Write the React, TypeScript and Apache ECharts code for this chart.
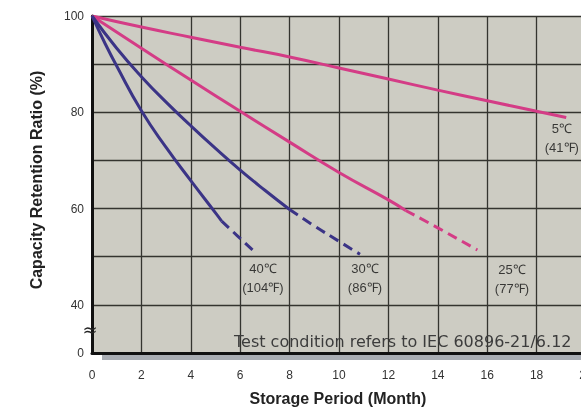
import React, { useEffect, useRef } from "react";
import * as echarts from "echarts";

// Month (x) and capacity retention (%)
const c5X = [0, 2, 4, 6, 8, 10, 12, 14, 16, 18, 19.2];
const c5Y = [100, 97.7, 95.6, 93.5, 91.5, 89.2, 86.9, 84.6, 82.4, 80.2, 78.9];

const c25SolidX = [0, 2, 4, 6, 8, 10, 12, 12.7];
const c25SolidY = [100, 93.3, 86.7, 80.2, 73.8, 67.5, 61.8, 59.6];
const c25DashX = [12.7, 14, 15.6];
const c25DashY = [59.6, 56.0, 51.4];

const c30SolidX = [0, 1, 2, 3, 4, 5, 6, 7, 8];
const c30SolidY = [100, 93.3, 87.4, 82.1, 77.2, 72.5, 68.0, 63.8, 59.8];
const c30DashX = [8, 9, 10, 10.85];
const c30DashY = [59.8, 56.4, 53.2, 50.5];

const c40SolidX = [0, 0.5, 1, 2, 3, 4, 5, 5.25];
const c40SolidY = [100, 94.6, 89.6, 80.3, 72.7, 65.8, 59.1, 57.4];
const c40DashX = [5.25, 6.5];
const c40DashY = [57.4, 51.4];

const labelNames = ["40℃\n(104℉)", "30℃\n(86℉)", "25℃\n(77℉)", "5℃\n(41℉)"];
const labelX = [6.92, 11.05, 17.0, 19.02];
const labelY = [45.5, 45.5, 45.4, 74.6];

const yTickLabels: Record<number, string> = { 100: "100", 80: "80", 60: "60", 40: "40", 30: "0" };

const PINK = "#d43c86";
const NAVY = "#3b3486";

const zip = (xs: number[], ys: number[]) => xs.map((x, i) => [x, ys[i]]);

export default function App() {
  const ref = useRef<HTMLDivElement>(null);
  useEffect(() => {
    if (!ref.current) return;
    const chart = echarts.init(ref.current, null, { renderer: "svg" });
    const line = (name: string, xs: number[], ys: number[], color: string, dashed: boolean) => ({
      name,
      type: "line",
      data: zip(xs, ys),
      smooth: 0.5,
      showSymbol: false,
      symbol: "none",
      lineStyle: { color, width: 3, type: dashed ? [10, 6] : "solid" },
      z: 3,
    });
    chart.setOption({
      animation: false,
      grid: {
        left: 92,
        top: 16,
        width: 494,
        bottom: 60,
        outerBoundsMode: "none",
        containLabel: false,
        show: true,
        backgroundColor: "#cdccc3",
        borderWidth: 0,
      },
      xAxis: {
        type: "value",
        min: 0,
        max: 20,
        interval: 2,
        axisLine: { show: true, onZero: false, lineStyle: { color: "#111", width: 3 } },
        axisTick: { show: false },
        splitLine: { show: true, lineStyle: { color: "#34342f", width: 1.3 } },
        axisLabel: { color: "#333", fontSize: 12, fontFamily: "Liberation Sans", margin: 16 },
      },
      yAxis: {
        type: "value",
        min: 30,
        max: 100,
        interval: 10,
        axisLine: { show: true, onZero: false, lineStyle: { color: "#111", width: 3 } },
        axisTick: { show: false },
        splitLine: { show: true, lineStyle: { color: "#34342f", width: 1.3 } },
        axisLabel: {
          color: "#333",
          fontSize: 12,
          fontFamily: "Liberation Sans",
          margin: 8,
          formatter: (v: number) => yTickLabels[v] ?? "",
        },
      },
      graphic: [
        { type: "rect", shape: { x: 102, y: 353, width: 490, height: 7 }, style: { fill: "#a9adb3" }, z: -10 },
        {
          type: "text",
          x: 234,
          y: 341,
          z: 5,
          style: {
            text: "Test condition refers to IEC 60896-21/6.12",
            fill: "#3c3c3c",
            font: "16px 'DejaVu Sans'",
            verticalAlign: "middle",
            align: "left",
          },
        },
        {
          type: "text",
          x: 90,
          y: 329,
          z: 5,
          style: { text: "≈", fill: "#222", font: "18px 'DejaVu Sans'", align: "center", verticalAlign: "middle" },
        },
        {
          type: "text",
          x: 36,
          y: 180,
          rotation: Math.PI / 2,
          style: {
            text: "Capacity Retention Ratio (%)",
            fill: "#222",
            font: "bold 16px 'Liberation Sans'",
            align: "center",
            verticalAlign: "middle",
          },
        },
        {
          type: "text",
          x: 338,
          y: 398,
          style: {
            text: "Storage Period (Month)",
            fill: "#222",
            font: "bold 16px 'Liberation Sans'",
            align: "center",
            verticalAlign: "middle",
          },
        },
      ],
      series: [
        line("5℃", c5X, c5Y, PINK, false),
        line("25℃", c25SolidX, c25SolidY, PINK, false),
        line("25℃ dashed", c25DashX, c25DashY, PINK, true),
        line("30℃", c30SolidX, c30SolidY, NAVY, false),
        line("30℃ dashed", c30DashX, c30DashY, NAVY, true),
        line("40℃", c40SolidX, c40SolidY, NAVY, false),
        line("40℃ dashed", c40DashX, c40DashY, NAVY, true),
        {
          type: "scatter",
          symbolSize: 0,
          z: 4,
          data: labelNames.map((n, i) => ({ name: n, value: [labelX[i], labelY[i]] })),
          label: {
            show: true,
            position: "inside",
            formatter: (p: any) => p.name,
            color: "#111",
            fontSize: 13,
            fontFamily: "Liberation Sans",
            lineHeight: 19,
            align: "center",
          },
        },
      ],
    });
    return () => chart.dispose();
  }, []);
  return <div ref={ref} style={{ position: "fixed", left: 0, top: 0, width: 581, height: 413 }} />;
}
